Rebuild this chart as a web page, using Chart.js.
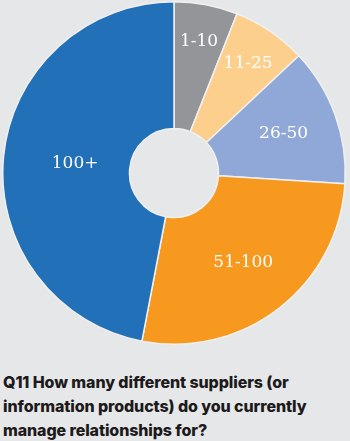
<!DOCTYPE html>
<html>
<head>
<meta charset="utf-8">
<script src="https://cdn.jsdelivr.net/npm/chart.js@4/dist/chart.umd.min.js"></script>
<style>
  html, body { margin: 0; padding: 0; background: #e6e7e8; }
  body { width: 350px; height: 441px; position: relative; overflow: hidden; }
  #wrap { position: absolute; left: 0; top: 0; width: 348px; height: 346px; }
  #title {
    position: absolute; left: 3px; top: 370px; width: 322px;
    font-family: "Inter", sans-serif; font-weight: 800; font-size: 16px;
    line-height: 24px; color: #1d1a1b; letter-spacing: -0.1px;
  }
</style>
</head>
<body>
<div id="wrap"><canvas id="chart"></canvas></div>
<div id="title">Q11 How many different suppliers (or information products) do you currently manage relationships for?</div>
<script>
// --- データ ---
const categories = ['1-10', '11-25', '26-50', '51-100', '100+'];
const shares = [6, 7, 13, 27, 47];
const sliceColors = ['#939598', '#fdcf8c', '#8fa8d7', '#f7991f', '#2170b8'];
// ラベルの半径位置 (外径に対する比率)
const labelRadius = [0.78, 0.77, 0.68, 0.66, 0.58];

// スライス内ラベル描画プラグイン
const sliceLabels = {
  id: 'sliceLabels',
  afterDatasetsDraw(chart) {
    const ctx = chart.ctx;
    const arcs = chart.getDatasetMeta(0).data;
    ctx.save();
    ctx.fillStyle = '#ffffff';
    ctx.font = '17px "DejaVu Serif", serif';
    ctx.textAlign = 'center';
    ctx.textBaseline = 'middle';
    arcs.forEach((arc, i) => {
      const mid = (arc.startAngle + arc.endAngle) / 2;
      const r = arc.outerRadius * labelRadius[i];
      ctx.fillText(categories[i], arc.x + Math.cos(mid) * r, arc.y + Math.sin(mid) * r);
    });
    ctx.restore();
  }
};

new Chart(document.getElementById('chart'), {
  type: 'doughnut',
  data: {
    labels: categories,
    datasets: [{
      data: shares,
      backgroundColor: sliceColors,
      borderColor: '#f0f0f0',
      borderWidth: 1.5
    }]
  },
  options: {
    responsive: true,
    maintainAspectRatio: false,
    animation: false,
    cutout: '26%',
    layout: { padding: 1 },
    plugins: {
      legend: { display: false },
      tooltip: { enabled: false }
    }
  },
  plugins: [sliceLabels]
});
</script>
</body>
</html>
